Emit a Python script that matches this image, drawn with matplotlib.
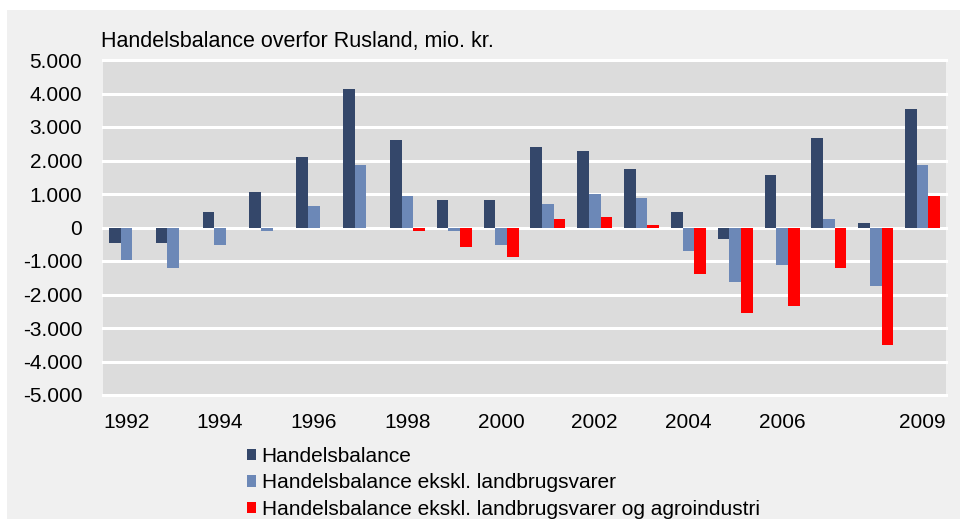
"""
Handelsbalance overfor Rusland, mio. kr. - grouped bar chart.
"""
import matplotlib
matplotlib.use('Agg')
import matplotlib.pyplot as plt
import numpy as np
from matplotlib.patches import Rectangle
from matplotlib.ticker import FuncFormatter

years = [str(y) for y in range(1992, 2010)]
tick_labels = ['1992', '', '1994', '', '1996', '', '1998', '', '2000', '',
               '2002', '', '2004', '', '2006', '', '', '2009']

handelsbalance = [-460, -460, 470, 1050, 2100, 4130, 2620, 820, 820,
                  2400, 2280, 1750, 470, -350, 1570, 2680, 120, 3550]
ekskl_landbrug = [-980, -1220, -520, -110, 650, 1860, 930, -110, -520,
                  700, 1000, 880, -690, -1620, -1110, 240, -1740, 1860]
ekskl_landbrug_agro = [0, 0, 0, 0, 0, 0, -110, -580, -870,
                       240, 300, 70, -1400, -2560, -2330, -1220, -3500, 930]

series = [
    ('Handelsbalance', handelsbalance, '#34476A'),
    ('Handelsbalance ekskl. landbrugsvarer', ekskl_landbrug, '#6C88B7'),
    ('Handelsbalance ekskl. landbrugsvarer og agroindustri', ekskl_landbrug_agro, '#FF0000'),
]

plt.rcParams['font.family'] = ['Liberation Sans', 'DejaVu Sans']
FS = 15

fig = plt.figure(figsize=(9.6, 5.19), dpi=100, facecolor='white')
fig.patches.append(Rectangle((7 / 960, 0), 1, 1 - 10 / 519, transform=fig.transFigure,
                             facecolor='#F0F0F0', edgecolor='none', zorder=-10))

ax = fig.add_axes([103 / 960, 1 - 395 / 519, 843 / 960, 335 / 519])
ax.set_facecolor('#DCDCDC')

x = np.arange(len(years))
w = 0.25
for i, (label, vals, color) in enumerate(series):
    ax.bar(x + (i - 1) * w, vals, width=w, color=color, label=label, zorder=3)

ax.set_xlim(-0.5, len(years) - 0.5)
ax.set_ylim(-5000, 5000)
ax.set_yticks(np.arange(-5000, 5001, 1000))
ax.yaxis.set_major_formatter(FuncFormatter(lambda v, p: f'{int(v):,}'.replace(',', '.')))
ax.set_xticks(x)
ax.set_xticklabels(tick_labels)
ax.tick_params(axis='both', length=0, labelsize=FS)
ax.tick_params(axis='y', pad=15)
ax.tick_params(axis='x', pad=13)

ax.grid(True, axis='y', color='white', linewidth=2.2, zorder=1)
ax.set_axisbelow(True)
for line in ax.get_ygridlines():
    line.set_clip_on(False)
for s in ax.spines.values():
    s.set_visible(False)

fig.text(101 / 960, 1 - 41 / 519, 'Handelsbalance overfor Rusland, mio. kr.',
         fontsize=15.5, ha='left', va='center')

fig.legend(loc='upper left', bbox_to_anchor=(247 / 960, 1 - 447 / 519), frameon=False,
           fontsize=FS, handlelength=0.45, handleheight=0.45, handletextpad=0.25,
           labelspacing=0.36, borderpad=0, borderaxespad=0)

plt.savefig('out.png', dpi=100, facecolor=fig.get_facecolor())
plt.close()
